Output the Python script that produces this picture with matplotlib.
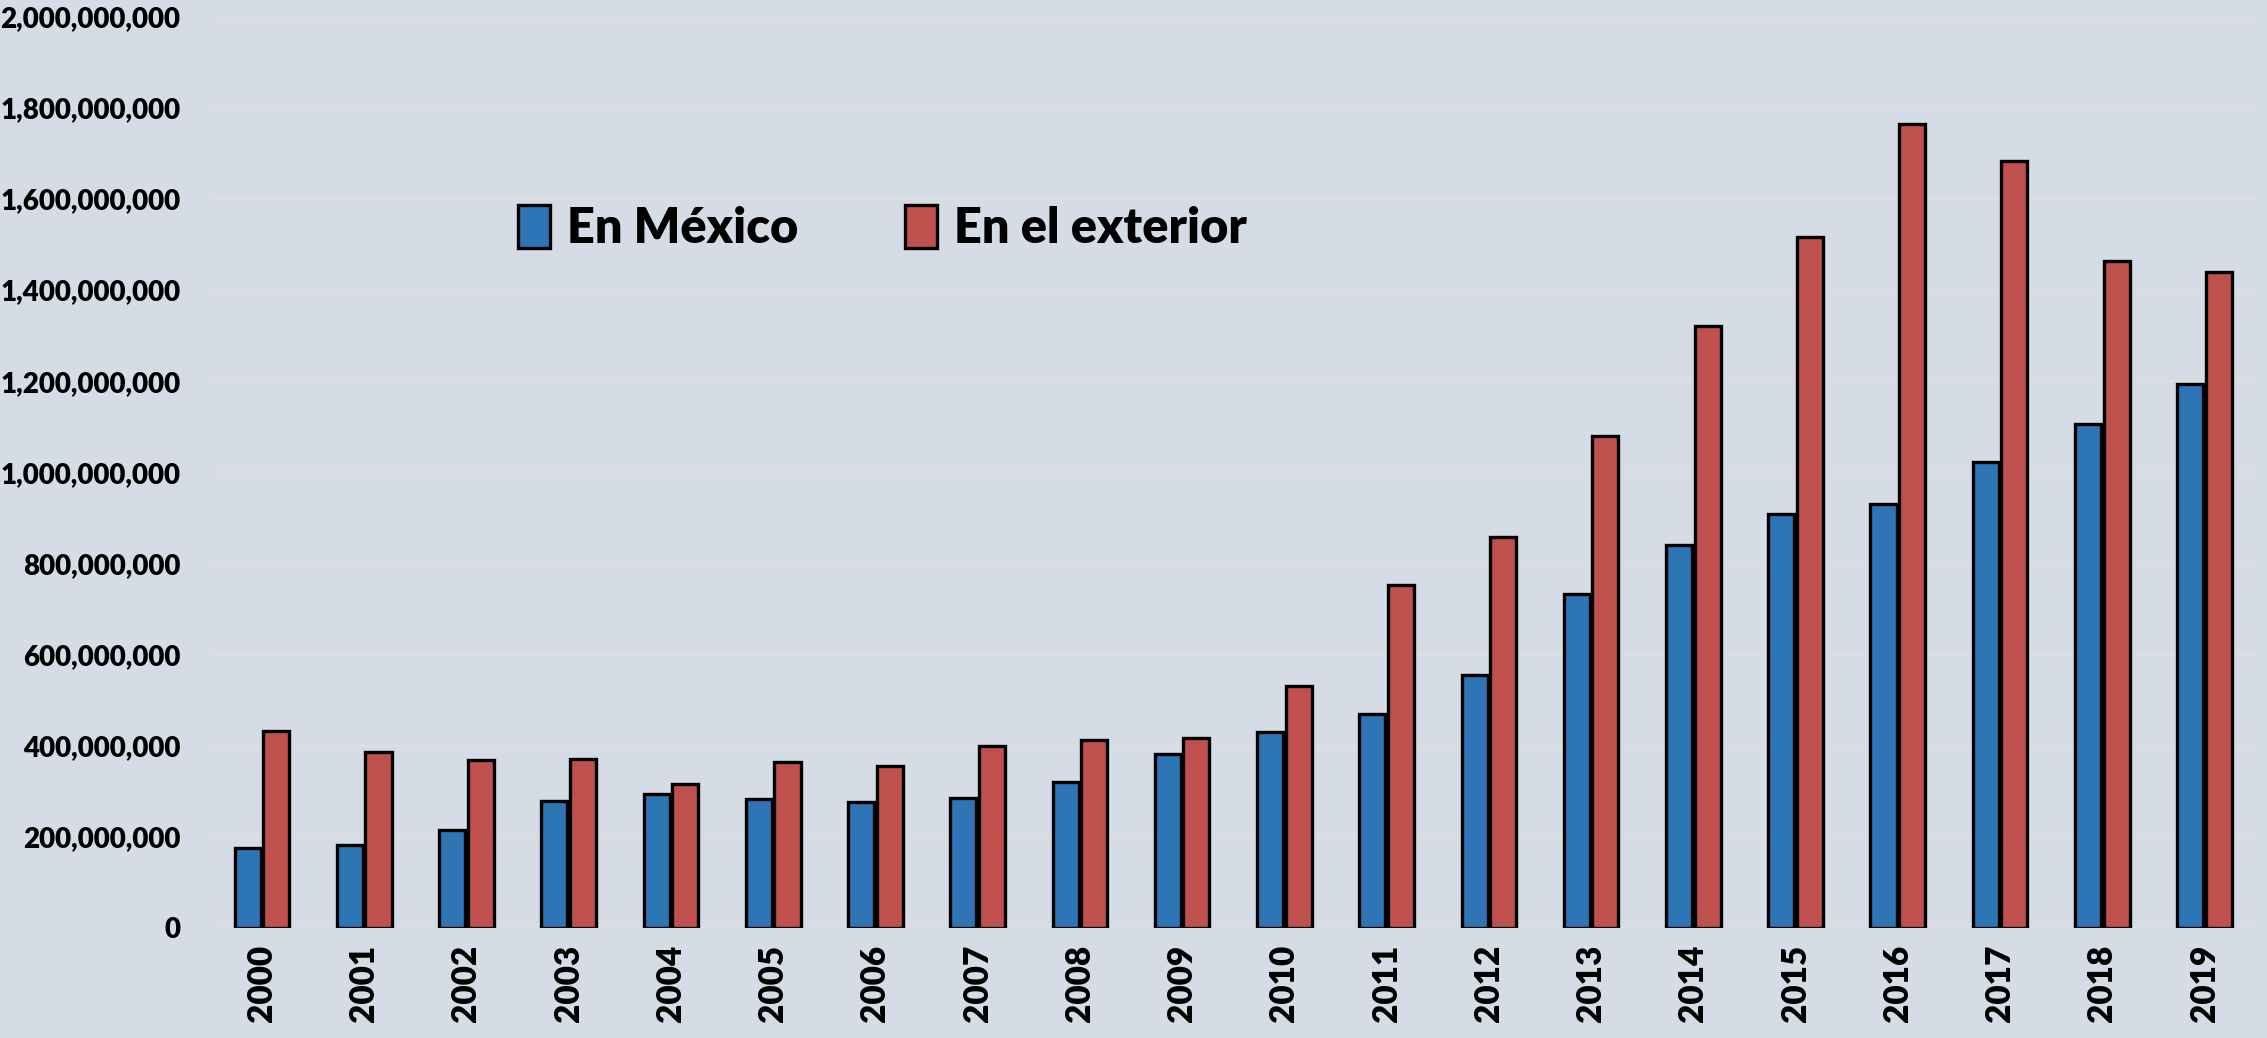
import matplotlib.pyplot as plt
import matplotlib.ticker as mticker
import numpy as np

# fuente parecida a Calibri
plt.rcParams['font.family'] = ['Lato', 'DejaVu Sans']
plt.rcParams['font.weight'] = 'bold'

YEARS = [str(y) for y in range(2000, 2020)]
EN_MEXICO = [175e6, 181e6, 216e6, 279e6, 295e6, 283e6, 276e6, 286e6, 321e6, 381e6,
             429e6, 470e6, 556e6, 733e6, 841e6, 908e6, 930e6, 1022e6, 1107e6, 1194e6]
EN_EXTERIOR = [432e6, 387e6, 368e6, 371e6, 317e6, 365e6, 356e6, 400e6, 413e6, 416e6,
               530e6, 752e6, 857e6, 1079e6, 1322e6, 1516e6, 1764e6, 1684e6, 1464e6, 1440e6]
LABELS = ['En México', 'En el exterior']

BG = '#D6DCE5'
AZUL = '#2E75B6'
ROJO = '#C0504D'

fig = plt.figure(figsize=(22.67, 10.38), dpi=100, facecolor=BG)
ax = fig.add_axes([0.093, 0.106, 0.902, 0.878])
ax.set_facecolor(BG)

x = np.arange(len(YEARS))
w = 0.255
ax.bar(x - 0.14, EN_MEXICO, w, color=AZUL, edgecolor='black', linewidth=2.4,
       label=LABELS[0], zorder=3)
ax.bar(x + 0.14, EN_EXTERIOR, w, color=ROJO, edgecolor='black', linewidth=2.4,
       label=LABELS[1], zorder=3)

ax.set_ylim(0, 2e9)
ax.set_xlim(-0.5, len(YEARS) - 0.5)
ax.yaxis.set_major_locator(mticker.MultipleLocator(2e8))
ax.yaxis.set_major_formatter(mticker.FuncFormatter(lambda v, p: f'{int(v):,}'))
ax.grid(axis='y', color='#DEDEDE', linewidth=1.5, zorder=0)

ax.set_xticks(x)
ax.set_xticklabels(YEARS, rotation=90, fontsize=24, fontweight='heavy')
ax.tick_params(axis='x', length=0, pad=12)
ax.tick_params(axis='y', length=0, pad=22, labelsize=20)
for lab in ax.get_yticklabels():
    lab.set_fontweight('heavy')

for s in ax.spines.values():
    s.set_visible(False)

leg = ax.legend(loc='center left', bbox_to_anchor=(0.129, 0.768), ncol=2, frameon=False,
                fontsize=35, handlelength=0.65, handleheight=1.0, handletextpad=0.35,
                columnspacing=2.2)
for t in leg.get_texts():
    t.set_fontweight('heavy')

plt.savefig('out.png', dpi=100, facecolor=BG)
